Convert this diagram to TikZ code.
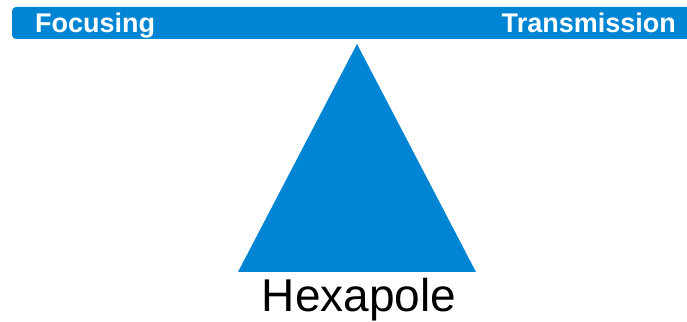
\documentclass[tikz,border=0pt]{standalone}
\usepackage{fontspec}
\setmainfont{Liberation Sans}
\definecolor{barblue}{RGB}{0,133,212}
\begin{document}
\begin{tikzpicture}[x=1pt,y=1pt,
  bartext/.style={text=white,font=\fontsize{27}{30}\selectfont\bfseries,inner sep=0pt},
  shape fill/.style={fill=barblue,draw=none}]
\useasboundingbox (0,0) rectangle (687,321);
\fill[barblue,rounded corners=4pt] (12,282) rectangle (700,314);
\node[bartext,anchor=base west] (focus) at (35,288) {Focusing};
\node[bartext,anchor=base east] (trans) at (676,288) {Transmission};
\coordinate (apex) at (357,277);
\coordinate (bl) at (238,49);
\coordinate (br) at (476,49);
\fill[shape fill] (apex) -- (bl) -- (br) -- cycle;
\node[font=\fontsize{46}{52}\selectfont,inner sep=0pt,anchor=base] (hex) at (359,10) {Hexapole};
\end{tikzpicture}
\end{document}
